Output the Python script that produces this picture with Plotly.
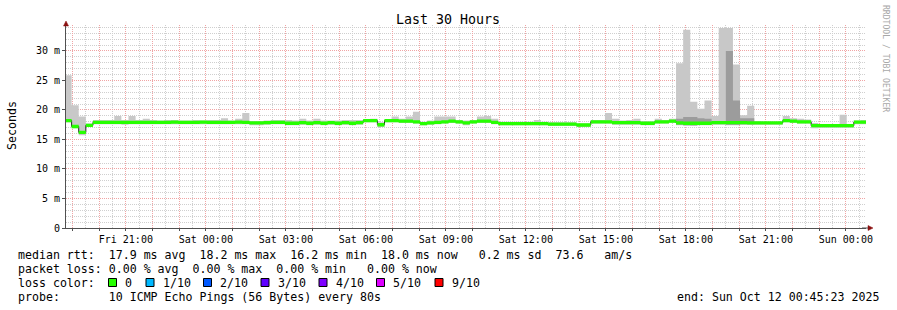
import pandas as pd
import plotly.graph_objects as go

# ---------------- data ----------------
bin_start = "2025-10-10 18:42:00"   # start of first 16-minute consolidation bin
bin_minutes = 16
t_start = "2025-10-10 18:45:23"
t_end = "2025-10-12 00:45:23"

median_ms = [
    18.2, 17.2, 16.2, 17.4, 17.9, 17.9, 17.9, 17.9, 17.9, 17.9, 17.9, 17.9, 17.9,
    17.9, 17.9, 17.95, 17.9, 17.9, 17.9, 17.95, 17.9, 17.9, 17.9, 17.9, 17.95, 17.9, 17.8, 17.8, 17.85, 17.9, 17.9,
    17.75, 17.75, 17.85, 17.75, 17.85, 17.75, 17.85, 17.75, 17.85, 17.75, 17.85,
    18.2, 18.2, 17.5, 18.2, 18.2, 18.1, 18.1, 18.0, 17.7, 17.8, 17.9, 18.0, 18.1, 18.0, 17.8, 18.0, 18.1, 18.1, 17.9,
    17.7, 17.7, 17.7, 17.7, 17.7, 17.7, 17.7, 17.6, 17.6, 17.6, 17.6,
    17.45, 17.45,
    18.0, 18.0, 18.0, 17.85, 17.85, 17.85, 17.85, 17.75, 17.75, 18.0, 18.0, 18.1,
    17.8, 17.75, 17.75, 17.75, 17.75, 17.85, 17.85, 17.85, 17.85, 17.85, 17.8, 17.8, 17.8, 17.8, 17.8,
    18.2, 18.1, 18.0, 18.0, 17.35, 17.35, 17.35, 17.35, 17.35, 17.35, 17.95, 17.95,
]
smoke_lo_ms = [
    17.9, 16.9, 15.7, 17.1, 17.6, 17.6, 17.6, 17.6, 17.5, 17.6, 17.6, 17.6, 17.6,
    17.6, 17.6, 17.6, 17.6, 17.6, 17.6, 17.6, 17.6, 17.6, 17.6, 17.6, 17.6, 17.6, 17.4, 17.4, 17.5, 17.6, 17.6,
    17.4, 17.4, 17.5, 17.4, 17.5, 17.4, 17.5, 17.4, 17.5, 17.4, 17.5,
    17.9, 17.9, 17.1, 17.9, 17.9, 17.8, 17.8, 17.7, 17.4, 17.5, 17.6, 17.7, 17.8, 17.7, 17.4, 17.7, 17.8, 17.8, 17.6,
    17.4, 17.4, 17.4, 17.4, 17.4, 17.4, 17.4, 17.3, 17.3, 17.3, 17.3,
    17.1, 17.1,
    17.7, 17.7, 17.7, 17.5, 17.5, 17.5, 17.5, 17.4, 17.4, 17.7, 17.7, 17.8,
    17.4, 17.3, 17.3, 17.4, 17.4, 17.5, 17.5, 17.4, 17.4, 17.5, 17.5, 17.5, 17.5, 17.5, 17.5,
    17.9, 17.8, 17.7, 17.7, 16.9, 17.0, 17.0, 17.0, 17.0, 17.0, 17.6, 17.6,
]
smoke_hi_ms = [
    25.9, 20.8, 18.9, 17.7, 18.3, 18.3, 18.3, 19.0, 18.3, 19.0, 18.3, 18.5, 18.3,
    18.2, 18.3, 18.3, 18.2, 18.2, 18.3, 18.2, 18.3, 18.3, 18.6, 18.2, 18.5, 19.5, 18.1, 18.1, 18.2, 18.3, 18.3,
    18.3, 18.2, 18.5, 18.2, 18.5, 18.2, 18.2, 18.2, 18.3, 18.3, 18.3,
    18.4, 18.5, 17.9, 18.4, 18.9, 18.5, 18.9, 19.7, 18.0, 18.2, 18.9, 18.9, 18.9, 18.3, 18.2, 18.3, 18.9, 19.0, 18.5,
    18.0, 18.0, 18.0, 18.0, 18.0, 18.3, 18.0, 17.9, 17.9, 17.9, 17.9,
    17.7, 17.7,
    18.3, 18.3, 19.5, 18.5, 18.2, 18.3, 18.5, 18.1, 18.1, 18.5, 18.3, 18.5,
    27.9, 33.6, 21.4, 20.2, 21.6, 19.0, 33.9, 33.9, 27.7, 19.1, 20.7, 18.1, 18.0, 18.0, 18.0,
    19.0, 18.6, 18.5, 18.4, 17.8, 17.6, 17.6, 17.6, 19.2, 17.6, 18.2, 18.3,
]
# darker (inner) smoke layer, bins 86..96
dark_first_bin = 86
dark_lo_ms = [17.5, 17.5, 17.4, 17.5, 17.5, 17.85, 17.85, 17.5, 17.5, 17.6, 17.6]
dark_hi_ms = [18.5, 18.8, 18.8, 18.6, 18.5, 17.85, 17.85, 30.0, 21.6, 18.6, 18.6]

y_tick_vals = [0, 5, 10, 15, 20, 25, 30]
y_tick_text = ["0", "5 m", "10 m", "15 m", "20 m", "25 m", "30 m"]

stats_line = "median rtt:  17.9 ms avg  18.2 ms max  16.2 ms min  18.0 ms now   0.2 ms sd  73.6   am/s"
loss_line = "packet loss: 0.00 % avg  0.00 % max  0.00 % min   0.00 % now"
probe_line = "probe:       10 ICMP Echo Pings (56 Bytes) every 80s"
end_line = "end: Sun Oct 12 00:45:23 2025"
loss_labels = ["0", "1/10", "2/10", "3/10", "4/10", "5/10", "9/10"]
loss_colors = ["#26ff00", "#00b8ff", "#0059ff", "#5e00ff", "#7e00ff", "#dd00ff", "#ff0000"]

# ---------------- geometry helpers ----------------
W, H = 897, 310
L, R, T, B = 66, 31, 25, 82
PW, PH = W - L - R, H - T - B
MONO = "DejaVu Sans Mono"


def px(x):
    return (x - L) / PW


def py(y):
    return (H - B - y) / PH


n = len(median_ms)
edges = pd.date_range(bin_start, periods=n + 1, freq=f"{bin_minutes}min")


def step(vals):
    return list(vals) + [vals[-1]]


band = 0.28
med_lo = [m - band for m in median_ms]
med_hi = [m + band for m in median_ms]

fig = go.Figure()
LIGHT = "#c8c8c8"
DARK = "#9c9c9c"
GREEN = loss_colors[0]

fig.add_trace(go.Scatter(x=edges, y=step(smoke_lo_ms), mode="lines", line=dict(width=0, shape="hv"),
                         hoverinfo="skip"))
fig.add_trace(go.Scatter(x=edges, y=step(smoke_hi_ms), mode="lines", line=dict(width=0, shape="hv"),
                         fill="tonexty", fillcolor=LIGHT, hoverinfo="skip"))
dx = edges[dark_first_bin:dark_first_bin + len(dark_lo_ms) + 1]
fig.add_trace(go.Scatter(x=dx, y=step(dark_lo_ms), mode="lines", line=dict(width=0, shape="hv"),
                         hoverinfo="skip"))
fig.add_trace(go.Scatter(x=dx, y=step(dark_hi_ms), mode="lines", line=dict(width=0, shape="hv"),
                         fill="tonexty", fillcolor=DARK, hoverinfo="skip"))
fig.add_trace(go.Scatter(x=edges, y=step(median_ms), mode="lines",
                         line=dict(width=1, shape="hv", color="#202020"), hoverinfo="skip"))
fig.add_trace(go.Scatter(x=edges, y=step(med_lo), mode="lines", line=dict(width=0, shape="hv"),
                         hoverinfo="skip"))
fig.add_trace(go.Scatter(x=edges, y=step(med_hi), mode="lines", line=dict(width=0, shape="hv"),
                         fill="tonexty", fillcolor=GREEN, hoverinfo="skip"))

# x ticks: grid every hour, labels every 3 hours
hours = pd.date_range("2025-10-10 19:00", "2025-10-12 00:00", freq="1h")
x_tick_vals = list(hours)
x_tick_text = [h.strftime("%a %H:%M") if h.hour % 3 == 0 else "" for h in hours]

RED_GRID = "#f0a4a4"
GRAY_GRID = "#cfcfcf"
AXIS = "#505050"

fig.update_layout(
    width=W, height=H, margin=dict(l=L, r=R, t=T, b=B, pad=0),
    paper_bgcolor="white", plot_bgcolor="white", showlegend=False,
    font=dict(family=MONO, size=10, color="black"),
    xaxis=dict(type="date", range=[t_start, t_end], tickmode="array",
               tickvals=x_tick_vals, ticktext=x_tick_text,
               showgrid=True, gridcolor=RED_GRID, griddash="1px,1px", gridwidth=1,
               minor=dict(dtick=30 * 60 * 1000, tick0="2025-10-10 00:00", showgrid=True,
                          gridcolor=GRAY_GRID, griddash="1px,1px", gridwidth=1),
               showline=True, linecolor=AXIS, linewidth=1,
               ticks="outside", ticklen=2, tickcolor=AXIS,
               zeroline=False, tickfont=dict(family=MONO, size=10, color="black")),
    yaxis=dict(range=[0, 34.4], tickmode="array", tickvals=y_tick_vals, ticktext=y_tick_text,
               showgrid=True, gridcolor=RED_GRID, griddash="1px,1px", gridwidth=1,
               minor=dict(dtick=1, tick0=0, showgrid=True, gridcolor=GRAY_GRID,
                          griddash="1px,1px", gridwidth=1),
               showline=True, linecolor=AXIS, linewidth=1,
               ticks="outside", ticklen=3, tickcolor=AXIS,
               zeroline=False, tickfont=dict(family=MONO, size=10, color="black")),
)

ann = []
ann.append(dict(text="Last 30 Hours", x=px(448), y=py(19), xref="paper", yref="paper",
                showarrow=False, xanchor="center", yanchor="middle",
                font=dict(family=MONO, size=13.3, color="black")))
ann.append(dict(text="Seconds", x=px(12), y=py(126), xref="paper", yref="paper",
                showarrow=False, xanchor="center", yanchor="middle", textangle=-90,
                font=dict(family=MONO, size=11.6, color="black")))
ann.append(dict(text="RRDTOOL / TOBI OETIKER", x=px(886), y=py(59), xref="paper", yref="paper",
                showarrow=False, xanchor="center", yanchor="middle", textangle=90,
                font=dict(family=MONO, size=8.1, color="#a8a8a8")))

NB = "\u00a0"
for txt, yy in [(stats_line, 254.5), (loss_line, 268.5), ("loss color:", 282.5), (probe_line, 296.5)]:
    ann.append(dict(text=txt.replace(" ", NB), x=px(16), y=py(yy), xref="paper", yref="paper",
                    showarrow=False, xanchor="left", yanchor="middle",
                    font=dict(family=MONO, size=11.6, color="black")))
ann.append(dict(text=end_line.replace(" ", NB), x=px(881), y=py(296.5), xref="paper", yref="paper",
                showarrow=False, xanchor="right", yanchor="middle",
                font=dict(family=MONO, size=11.6, color="black")))

shapes = []
square_x = [108.5, 146, 203.5, 261, 319, 376.5, 435]
for sx, lab, col in zip(square_x, loss_labels, loss_colors):
    shapes.append(dict(type="rect", xref="paper", yref="paper",
                       x0=px(sx), x1=px(sx + 8), y0=py(278.5), y1=py(286.5),
                       fillcolor=col, line=dict(color="black", width=1)))
    ann.append(dict(text=lab, x=px(sx + 14.5), y=py(282.5), xref="paper", yref="paper",
                    showarrow=False, xanchor="left", yanchor="middle",
                    font=dict(family=MONO, size=11.6, color="black")))

ARROW = "#8b1010"
# up arrow on y axis
shapes.append(dict(type="path", xref="paper", yref="paper",
                   path=f"M {px(63.5)},{py(26)} L {px(68.5)},{py(26)} L {px(66)},{py(21)} Z",
                   fillcolor=ARROW, line=dict(color=ARROW, width=0.5)))
# right arrow on x axis
shapes.append(dict(type="path", xref="paper", yref="paper",
                   path=f"M {px(868)},{py(225.5)} L {px(868)},{py(230.5)} L {px(873)},{py(228)} Z",
                   fillcolor=ARROW, line=dict(color=ARROW, width=0.5)))
shapes.append(dict(type="line", xref="paper", yref="paper", x0=px(862), x1=px(868),
                   y0=py(228), y1=py(228), line=dict(color=AXIS, width=1)))

fig.update_layout(annotations=ann, shapes=shapes)
fig.write_html("out.html")
